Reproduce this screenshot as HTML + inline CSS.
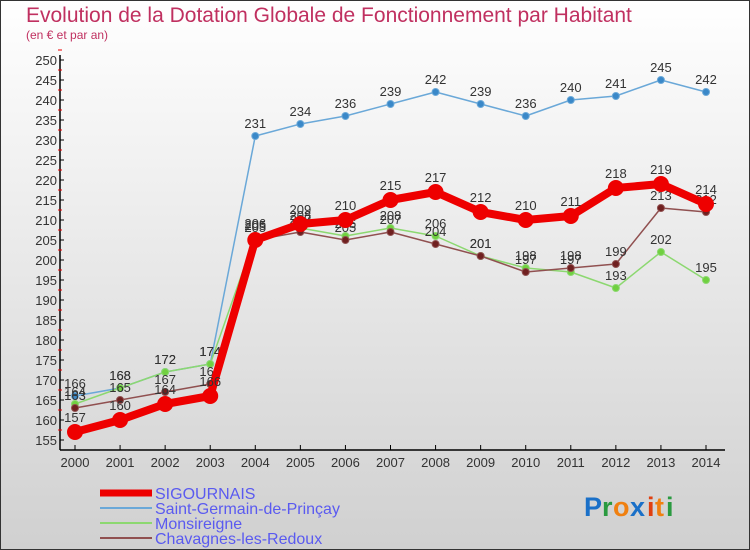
<!DOCTYPE html>
<html><head><meta charset="utf-8">
<style>
body{margin:0;}
#wrap{position:relative;width:750px;height:550px;overflow:hidden;background:linear-gradient(#ffffff,#d0d0d0);font-family:"Liberation Sans",sans-serif;}
svg{position:absolute;left:0;top:0;}
</style></head>
<body>
<div id="wrap">
<svg id="chart" width="750" height="550">
<rect x="0.5" y="0.5" width="749" height="549" fill="none" stroke="#333"/>
<text x="26" y="22" font-size="21" fill="#c03060">Evolution de la Dotation Globale de Fonctionnement par Habitant</text>
<text x="26" y="39" font-size="12" fill="#c03060">(en € et par an)</text>
<g id="axes"></g><g id="series"></g>
<g>
<line x1="100" y1="493" x2="152" y2="493" stroke="#e00" stroke-width="7"/>
<text x="155" y="499" font-size="16" fill="#5a5af0">SIGOURNAIS</text>
<line x1="100" y1="508" x2="152" y2="508" stroke="#6aa8d8" stroke-width="2"/>
<text x="155" y="514" font-size="16" fill="#5a5af0">Saint-Germain-de-Prinçay</text>
<line x1="100" y1="523" x2="152" y2="523" stroke="#8cd870" stroke-width="2"/>
<text x="155" y="529" font-size="16" fill="#5a5af0">Monsireigne</text>
<line x1="100" y1="538" x2="152" y2="538" stroke="#905050" stroke-width="2"/>
<text x="155" y="544" font-size="16" fill="#5a5af0">Chavagnes-les-Redoux</text>
</g>
<g font-size="27" font-weight="bold">
<text x="584" y="516" fill="#1a70c8">P</text><text x="602" y="516" fill="#2a9a40">r</text><text x="613" y="516" fill="#f08010">o</text><text x="630" y="516" fill="#1a70c8">x</text><text x="647" y="516" fill="#e04010">i</text><text x="655" y="516" fill="#f08010">t</text><text x="666" y="516" fill="#2a9a40">i</text>
</g>
</svg>
</div>
<script>
const years=[2000,2001,2002,2003,2004,2005,2006,2007,2008,2009,2010,2011,2012,2013,2014];
const sigournais=[157,160,164,166,205,209,210,215,217,212,210,211,218,219,214];
const saintGermain=[166,168,172,174,231,234,236,239,242,239,236,240,241,245,242];
const monsireigne=[164,168,172,174,206,208,206,208,206,201,198,197,193,202,195];
const chavagnes=[163,165,167,169,205,207,205,207,204,201,197,198,199,213,212];
const yTicks=[155,160,165,170,175,180,185,190,195,200,205,210,215,220,225,230,235,240,245,250];

const NS="http://www.w3.org/2000/svg";
function x(i){return 75+i*(706-75)/(years.length-1);}
function y(v){return 60+(250-v)*4;}
function mk(tag,attrs,parent){const e=document.createElementNS(NS,tag);for(const k in attrs)e.setAttribute(k,attrs[k]);parent.appendChild(e);return e;}
const axes=document.getElementById('axes');
let a=mk('line',{x1:60,y1:55,x2:60,y2:450,stroke:'#000','stroke-width':1.5},axes);


a=mk('line',{x1:60,y1:450,x2:725,y2:450,stroke:'#000','stroke-width':1.5},axes);


yTicks.forEach(v=>{
  mk('line',{x1:60,y1:y(v),x2:64,y2:y(v),stroke:'#000'},axes);
  mk('line',{x1:58,y1:y(v)-10,x2:62,y2:y(v)-10,stroke:'#e00'},axes);
  const t=mk('text',{x:57,y:y(v)+5,'font-size':13,fill:'#333','text-anchor':'end'},axes);
  t.textContent=v;
  
  
});
years.forEach((yr,i)=>{
  mk('line',{x1:x(i),y1:445,x2:x(i),y2:450,stroke:'#000'},axes);
  const t=mk('text',{x:x(i),y:467,'font-size':13,fill:'#333','text-anchor':'middle'},axes);
  t.textContent=yr;
  
  
});
const sg=document.getElementById('series');
function draw(data,name,color,w,r,dot,labelDy){
  const g=mk('g',{},sg);
  
  
  const l=mk('polyline',{points:data.map((v,i)=>x(i)+','+y(v)).join(' '),fill:'none',stroke:color,'stroke-width':w,'stroke-linejoin':'round'},g);
  
  
  data.forEach((v,i)=>{
    const c=mk('circle',{cx:x(i),cy:y(v),r:r,fill:dot,stroke:color,'stroke-width':1},g);
    
    
    const t=mk('text',{x:x(i),y:y(v)+labelDy,'font-size':13,fill:'#333','text-anchor':'middle'},g);
    t.textContent=v;
    
    
  });
}
draw(saintGermain,'saint-germain','#6aa8d8',1.5,3.5,'#3a88c8',-8);
draw(monsireigne,'monsireigne','#8cd870',1.5,3.5,'#70d040',-8);
draw(chavagnes,'chavagnes','#905050',1.5,3.5,'#702020',-8);
draw(sigournais,'sigournais','#e00',8,7.5,'#e00',-10);
</script>
</body></html>
